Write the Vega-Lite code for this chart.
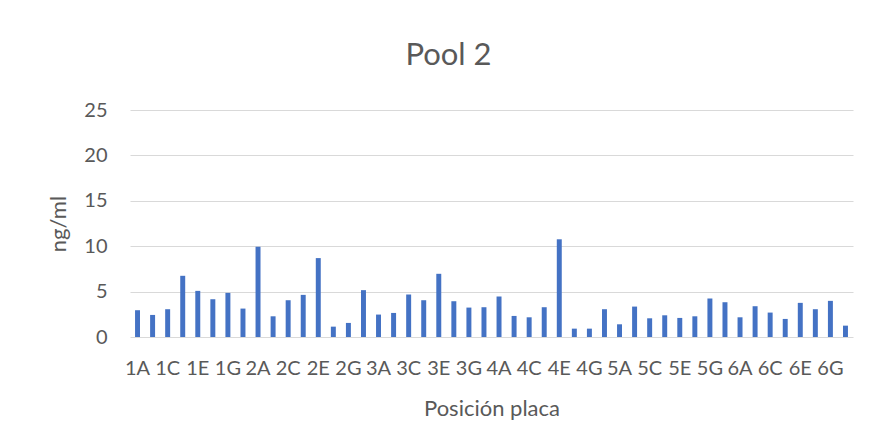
{
  "$schema": "https://vega.github.io/schema/vega-lite/v6.json",
  "autosize": "none",
  "width": 723,
  "height": 227,
  "padding": {"left": 130, "top": 110, "right": 22, "bottom": 110},
  "background": "white",
  "title": {
    "text": "Pool 2",
    "font": "Lato",
    "fontSize": 31,
    "fontWeight": "normal",
    "color": "#595959",
    "anchor": "middle",
    "dx": -43,
    "dy": 39,
    "baseline": "alphabetic",
    "offset": 43
  },
  "config": {
    "view": {"stroke": null},
    "axis": {
      "labelFont": "Lato",
      "titleFont": "Lato",
      "labelColor": "#595959",
      "titleColor": "#595959",
      "labelFontSize": 20,
      "titleFontSize": 22,
      "titleFontWeight": "normal",
      "domain": false,
      "ticks": false,
      "tickSize": 0,
      "gridColor": "#d9d9d9",
      "gridWidth": 1
    }
  },
  "data": {
    "values": [
      {"pos": "1A", "ng": 2.95}, {"pos": "1B", "ng": 2.43}, {"pos": "1C", "ng": 3.06}, {"pos": "1D", "ng": 6.74},
      {"pos": "1E", "ng": 5.08}, {"pos": "1F", "ng": 4.16}, {"pos": "1G", "ng": 4.86}, {"pos": "1H", "ng": 3.13},
      {"pos": "2A", "ng": 9.94}, {"pos": "2B", "ng": 2.28}, {"pos": "2C", "ng": 4.05}, {"pos": "2D", "ng": 4.64},
      {"pos": "2E", "ng": 8.69}, {"pos": "2F", "ng": 1.14}, {"pos": "2G", "ng": 1.55}, {"pos": "2H", "ng": 5.16},
      {"pos": "3A", "ng": 2.47}, {"pos": "3B", "ng": 2.65}, {"pos": "3C", "ng": 4.68}, {"pos": "3D", "ng": 4.05},
      {"pos": "3E", "ng": 6.96}, {"pos": "3F", "ng": 3.94}, {"pos": "3G", "ng": 3.24}, {"pos": "3H", "ng": 3.28},
      {"pos": "4A", "ng": 4.46}, {"pos": "4B", "ng": 2.32}, {"pos": "4C", "ng": 2.17}, {"pos": "4D", "ng": 3.28},
      {"pos": "4E", "ng": 10.76}, {"pos": "4F", "ng": 0.92}, {"pos": "4G", "ng": 0.92}, {"pos": "4H", "ng": 3.06},
      {"pos": "5A", "ng": 1.4}, {"pos": "5B", "ng": 3.35}, {"pos": "5C", "ng": 2.06}, {"pos": "5D", "ng": 2.39},
      {"pos": "5E", "ng": 2.1}, {"pos": "5F", "ng": 2.28}, {"pos": "5G", "ng": 4.24}, {"pos": "5H", "ng": 3.83},
      {"pos": "6A", "ng": 2.17}, {"pos": "6B", "ng": 3.39}, {"pos": "6C", "ng": 2.69}, {"pos": "6D", "ng": 1.99},
      {"pos": "6E", "ng": 3.76}, {"pos": "6F", "ng": 3.06}, {"pos": "6G", "ng": 3.98}, {"pos": "6H", "ng": 1.25}
    ]
  },
  "mark": {"type": "bar", "color": "#4472C4"},
  "encoding": {
    "x": {
      "field": "pos",
      "type": "nominal",
      "sort": null,
      "scale": {"paddingInner": 0.67, "paddingOuter": 0.335},
      "axis": {
        "title": "Posición placa",
        "labelAngle": 0,
        "labelOverlap": false,
        "labelPadding": 21,
        "values": ["1A","1C","1E","1G","2A","2C","2E","2G","3A","3C","3E","3G","4A","4C","4E","4G","5A","5C","5E","5G","6A","6C","6E","6G"],
        "grid": false,
        "titleY": 78,
        "titleBaseline": "alphabetic"
      }
    },
    "y": {
      "field": "ng",
      "type": "quantitative",
      "scale": {"domain": [0, 25], "nice": false},
      "axis": {
        "title": "ng/ml",
        "values": [0, 5, 10, 15, 20, 25],
        "labelPadding": 23,
        "titleX": -72,
        "titleY": 113.5,
        "titleBaseline": "middle",
        "titleAngle": -90
      }
    }
  }
}
